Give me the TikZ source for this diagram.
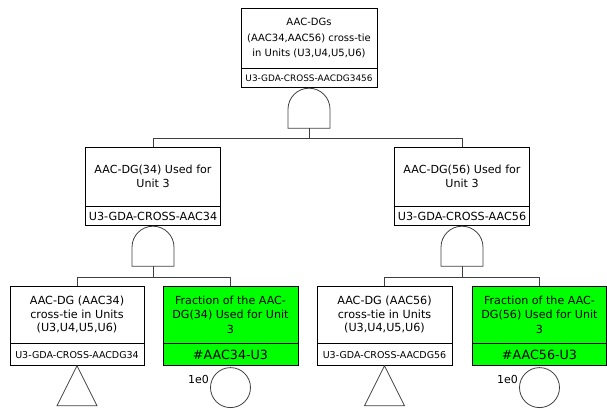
\documentclass[tikz,border=0pt]{standalone}
\usepackage{fontspec}
\setmainfont{DejaVu Sans}
\usetikzlibrary{calc}
\definecolor{fgreen}{RGB}{0,255,0}
\definecolor{lnc}{RGB}{64,64,64}
\newcommand\myfs[2]{\fontsize{#1}{#2}\selectfont}
\newcommand\andgate[2]{%
  \begin{scope}[shift={(#1)}]
    \draw[gatel] (-21,40) -- (-21,21) arc[start angle=180,end angle=0,radius=21pt] -- (21,40) -- cycle;
    \coordinate (#2) at (0,40);
  \end{scope}}
\begin{document}
\begin{tikzpicture}[x=1pt,y=-1pt,
  txt/.style={draw=black,line width=0.8pt,inner sep=0pt,align=center,text=black},
  gatel/.style={draw=lnc,line width=0.8pt},
  conn/.style={draw=lnc,line width=0.8pt},
  ev/.style={draw=lnc,line width=0.8pt,circle,minimum size=40pt,inner sep=0pt,anchor=north},
  lbl/.style={anchor=east,inner sep=1pt,font=\myfs{11}{13}}]
\useasboundingbox (0,0) rectangle (607,409);
% top
\node[txt,minimum width=136,minimum height=60,font=\myfs{10}{15.5}] (top) at (309,38)
  {AAC-DGs\\(AAC34,AAC56) cross-tie\\in Units (U3,U4,U5,U6)};
\node[txt,minimum width=136,minimum height=19,anchor=north,font=\myfs{8.9}{10}] (topid) at (top.south)
  {U3-GDA-CROSS-AACDG3456};
\andgate{topid.south}{g0}
% middle
\node[txt,minimum width=135,minimum height=59,font=\myfs{11.1}{14.5}] (mL) at (153,176.5)
  {AAC-DG(34) Used for\\Unit 3};
\node[txt,minimum width=135,minimum height=19,anchor=north,font=\myfs{11.2}{12}] (mLid) at (mL.south)
  {U3-GDA-CROSS-AAC34};
\node[txt,minimum width=135,minimum height=59,font=\myfs{11.1}{14.5}] (mR) at (462,176.5)
  {AAC-DG(56) Used for\\Unit 3};
\node[txt,minimum width=135,minimum height=19,anchor=north,font=\myfs{11.2}{12}] (mRid) at (mR.south)
  {U3-GDA-CROSS-AAC56};
\andgate{mLid.south}{g1}
\andgate{mRid.south}{g2}
% bottom
\node[txt,minimum width=134,minimum height=57,font=\myfs{11.2}{13.5}] (bL) at (77,314.5)
  {AAC-DG (AAC34)\\cross-tie in Units\\(U3,U4,U5,U6)};
\node[txt,minimum width=134,minimum height=21.5,anchor=north,font=\myfs{9.5}{11}] (bLid) at (bL.south)
  {U3-GDA-CROSS-AACDG34};
\node[txt,fill=fgreen,minimum width=135,minimum height=57,font=\myfs{11.1}{14.5}] (bG) at (230.5,314.5)
  {Fraction of the AAC-\\DG(34) Used for Unit\\3};
\node[txt,fill=fgreen,minimum width=135,minimum height=21.5,anchor=north,font=\myfs{12.7}{14}] (bGid) at (bG.south)
  {\#AAC34-U3};
\node[txt,minimum width=135,minimum height=57,font=\myfs{11.2}{13.5}] (bR) at (384.5,314.5)
  {AAC-DG (AAC56)\\cross-tie in Units\\(U3,U4,U5,U6)};
\node[txt,minimum width=135,minimum height=21.5,anchor=north,font=\myfs{9.5}{11}] (bRid) at (bR.south)
  {U3-GDA-CROSS-AACDG56};
\node[txt,fill=fgreen,minimum width=134,minimum height=57,font=\myfs{11.1}{14.5}] (bH) at (539.5,314.5)
  {Fraction of the AAC-\\DG(56) Used for Unit\\3};
\node[txt,fill=fgreen,minimum width=134,minimum height=21.5,anchor=north,font=\myfs{12.7}{14}] (bHid) at (bH.south)
  {\#AAC56-U3};
% undeveloped events
\draw[gatel] (bLid.south) -- ++(20,40) -- ++(-40,0) -- cycle;
\draw[gatel] (bRid.south) -- ++(20,40) -- ++(-40,0) -- cycle;
% basic events
\node[ev] (cG) at ($(bGid.south)+(0,1.5)$) {};
\node[lbl] (lG) at ($(cG.west)+(0,-8)$) {1e0};
\node[ev] (cH) at ($(bHid.south)+(0,1.5)$) {};
\node[lbl] (lH) at ($(cH.west)+(0,-8)$) {1e0};
% connectors
\coordinate (b0) at ($(g0)+(0,10)$);
\draw[conn] (g0) -- (b0) -| (mL.north);
\draw[conn] (b0) -| (mR.north);
\coordinate (b1) at ($(g1)+(0,11)$);
\draw[conn] (g1) -- (b1) -| (bL.north);
\draw[conn] (b1) -| (bG.north);
\coordinate (b2) at ($(g2)+(0,11)$);
\draw[conn] (g2) -- (b2) -| (bR.north);
\draw[conn] (b2) -| (bH.north);
\end{tikzpicture}
\end{document}
